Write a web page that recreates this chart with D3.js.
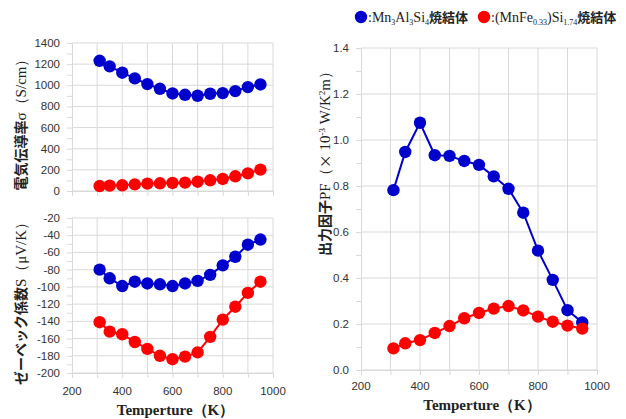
<!DOCTYPE html>
<html>
<head>
<meta charset="utf-8">
<script src="https://cdn.jsdelivr.net/npm/d3@7"></script>
<style>
  body { margin: 0; background: #fff; }
  text { font-family: "Liberation Sans", "Noto Sans", sans-serif; }
</style>
</head>
<body>
<div id="chart"></div>
<script>
// temperatures (K)
const temps = [310, 350, 400, 450, 500, 550, 600, 650, 700, 750, 800, 850, 900, 950];

// electrical conductivity (S/cm)
const sigmaMnAlSi = [1232, 1179, 1119, 1065, 1011, 967, 923, 910, 901, 920, 926, 945, 983, 1008];
const sigmaMnFeSi = [47, 51, 54, 63, 70, 73, 76, 79, 88, 101, 114, 139, 167, 202];

// Seebeck coefficient (uV/K)
const seebeckMnAlSi = [-80, -90, -99, -94, -96, -97, -99, -96, -93, -86, -75, -65, -51, -45];
const seebeckMnFeSi = [-141, -152, -155, -164, -172, -180, -184, -181, -176, -158, -138, -123, -107, -94];

// power factor (x10^-3 W/K^2m)
const pfMnAlSi = [0.782, 0.948, 1.075, 0.934, 0.931, 0.909, 0.892, 0.842, 0.788, 0.684, 0.519, 0.392, 0.260, 0.207];
const pfMnFeSi = [0.094, 0.116, 0.130, 0.161, 0.191, 0.225, 0.248, 0.267, 0.278, 0.259, 0.232, 0.210, 0.193, 0.180];

const xTicks = [200, 400, 600, 800, 1000];
const sigmaTicks = [0, 200, 400, 600, 800, 1000, 1200, 1400];
const seebeckTicks = [-200, -180, -160, -140, -120, -100, -80, -60, -40, -20];
const pfTicks = [0, 0.2, 0.4, 0.6, 0.8, 1.0, 1.2, 1.4];

const blue = '#0000cc', red = '#ff0000';
const grid = '#d9d9d9';

const svg = d3.select('#chart').append('svg')
  .attr('width', 626).attr('height', 419);

function panel(o) {
  const x = d3.scaleLinear().domain([200, 1000]).range([o.left, o.right]);
  const y = d3.scaleLinear().domain(o.yDomain).range([o.bottom, o.top]);
  const g = svg.append('g');

  // vertical gridlines every 100 K
  g.selectAll('line.vx').data(d3.range(300, 1001, 100)).enter().append('line')
    .attr('x1', d => x(d)).attr('x2', d => x(d))
    .attr('y1', o.top).attr('y2', o.bottom)
    .attr('stroke', grid).attr('stroke-width', 1);
  // horizontal gridlines at major ticks
  g.selectAll('line.hy').data(o.yTicks).enter().append('line')
    .attr('x1', o.left).attr('x2', o.right)
    .attr('y1', d => y(d)).attr('y2', d => y(d))
    .attr('stroke', grid).attr('stroke-width', 1);

  // y axis with minor ticks
  const yAxis = g.append('g').attr('transform', 'translate(' + o.left + ',0)')
    .call(d3.axisLeft(y).tickValues(o.yMinor).tickSize(5).tickFormat(''));
  yAxis.select('.domain').attr('stroke', grid);
  yAxis.selectAll('line').attr('stroke', grid);
  g.selectAll('text.yl').data(o.yTicks).enter().append('text')
    .attr('x', o.left - 12).attr('y', d => y(d)).attr('dy', '0.35em')
    .attr('text-anchor', 'end').attr('font-size', 11.5).attr('fill', '#333')
    .text(o.yFormat);

  // x axis
  const xAxis = g.append('g').attr('transform', 'translate(0,' + o.bottom + ')')
    .call(d3.axisBottom(x).tickValues(d3.range(200, 1001, 100)).tickSize(5).tickFormat(''));
  xAxis.select('.domain').attr('stroke', grid);
  xAxis.selectAll('line').attr('stroke', grid);
  if (o.xLabels) {
    g.selectAll('text.xl').data(xTicks).enter().append('text')
      .attr('x', d => x(d)).attr('y', o.bottom + o.xLabelGap)
      .attr('text-anchor', 'middle').attr('font-size', 11.5).attr('fill', '#333')
      .text(d => d);
    g.append('text')
      .attr('x', (o.left + o.right) / 2 + 3).attr('y', o.bottom + o.xLabelGap + 20)
      .attr('text-anchor', 'middle')
      .style('font-family', '"Liberation Serif", "DejaVu Serif", serif')
      .attr('font-size', 15).attr('font-weight', 'bold').attr('fill', '#222')
      .text('Temperture（K）');
  }

  const line = d3.line().x((d, i) => x(temps[i])).y(d => y(d));
  o.series.forEach(s => {
    g.append('path').datum(s.values)
      .attr('d', line).attr('fill', 'none')
      .attr('stroke', s.color).attr('stroke-width', 2);
    g.selectAll(null).data(s.values).enter().append('circle')
      .attr('cx', (d, i) => x(temps[i])).attr('cy', d => y(d))
      .attr('r', 6.2).attr('fill', s.color);
  });

  // rotated y title
  const t = svg.append('text')
    .attr('transform', 'translate(' + o.titleX + ',' + o.titleY + ') rotate(-90)')
    .attr('text-anchor', 'middle').attr('font-size', o.titleSize).attr('fill', '#222');
  o.title(t);
}

const jp = '"Noto Sans CJK JP", sans-serif';
const serif = '"Liberation Serif", "DejaVu Serif", serif';

panel({
  left: 72, right: 273, top: 43, bottom: 191,
  yDomain: [0, 1400], yTicks: sigmaTicks, yMinor: d3.range(0, 1401, 100),
  yFormat: d => d,
  xLabels: false,
  series: [{ values: sigmaMnAlSi, color: blue }, { values: sigmaMnFeSi, color: red }],
  titleX: 26, titleY: 121, titleSize: 14,
  title: t => {
    t.append('tspan').style('font-family', jp).attr('font-weight', 'bold').text('電気伝導率');
    t.append('tspan').style('font-family', serif).attr('font-size', 15).text('σ（S/cm）');
  }
});

panel({
  left: 72, right: 273, top: 218, bottom: 373,
  yDomain: [-200, -20], yTicks: seebeckTicks, yMinor: d3.range(-200, -19, 10),
  yFormat: d => d,
  xLabels: true, xLabelGap: 22,
  series: [{ values: seebeckMnAlSi, color: blue }, { values: seebeckMnFeSi, color: red }],
  titleX: 26, titleY: 300, titleSize: 14,
  title: t => {
    t.append('tspan').style('font-family', jp).attr('font-weight', 'bold').text('ゼーベック係数');
    t.append('tspan').style('font-family', serif).attr('font-size', 15).text('S（μV/K）');
  }
});

panel({
  left: 361, right: 597, top: 48, bottom: 370,
  yDomain: [0, 1.4], yTicks: pfTicks, yMinor: d3.range(0, 14.5, 1).map(v => v / 10),
  yFormat: d => d.toFixed(1),
  xLabels: true, xLabelGap: 20,
  series: [{ values: pfMnAlSi, color: blue }, { values: pfMnFeSi, color: red }],
  titleX: 330, titleY: 160, titleSize: 14,
  title: t => {
    t.append('tspan').style('font-family', jp).attr('font-weight', 'bold').text('出力因子');
    t.append('tspan').style('font-family', serif).attr('font-size', 15).text('PF（');
    t.append('tspan').style('font-family', jp).text('×');
    t.append('tspan').style('font-family', serif).attr('font-size', 15).text(' 10');
    t.append('tspan').style('font-family', serif).attr('font-size', 9).attr('dy', -5).text('-3');
    t.append('tspan').style('font-family', serif).attr('font-size', 15).attr('dy', 5).text(' W/K');
    t.append('tspan').style('font-family', serif).attr('font-size', 9).attr('dy', -5).text('2');
    t.append('tspan').style('font-family', serif).attr('font-size', 15).attr('dy', 5).text('m）');
  }
});

// legend
const legend = svg.append('g');
legend.append('circle').attr('cx', 361).attr('cy', 17).attr('r', 6.2).attr('fill', blue);
const l1 = legend.append('text').attr('x', 368).attr('y', 22).attr('font-size', 14).attr('fill', '#222');
l1.append('tspan').style('font-family', serif).text(':Mn');
l1.append('tspan').style('font-family', serif).attr('font-size', 8).attr('dy', 3).text('3');
l1.append('tspan').style('font-family', serif).attr('dy', -3).text('Al');
l1.append('tspan').style('font-family', serif).attr('font-size', 8).attr('dy', 3).text('3');
l1.append('tspan').style('font-family', serif).attr('dy', -3).text('Si');
l1.append('tspan').style('font-family', serif).attr('font-size', 8).attr('dy', 3).text('4');
l1.append('tspan').style('font-family', jp).attr('font-weight', 'bold').attr('font-size', 13).attr('dy', -3).text('焼結体');

legend.append('circle').attr('cx', 484).attr('cy', 17).attr('r', 6.2).attr('fill', red);
const l2 = legend.append('text').attr('x', 491).attr('y', 22).attr('font-size', 14).attr('fill', '#222');
l2.append('tspan').style('font-family', serif).text(':(MnFe');
l2.append('tspan').style('font-family', serif).attr('font-size', 8).attr('dy', 3).text('0.33');
l2.append('tspan').style('font-family', serif).attr('dy', -3).text(')Si');
l2.append('tspan').style('font-family', serif).attr('font-size', 8).attr('dy', 3).text('1.74');
l2.append('tspan').style('font-family', jp).attr('font-weight', 'bold').attr('font-size', 13).attr('dy', -3).text('焼結体');
</script>
</body>
</html>
